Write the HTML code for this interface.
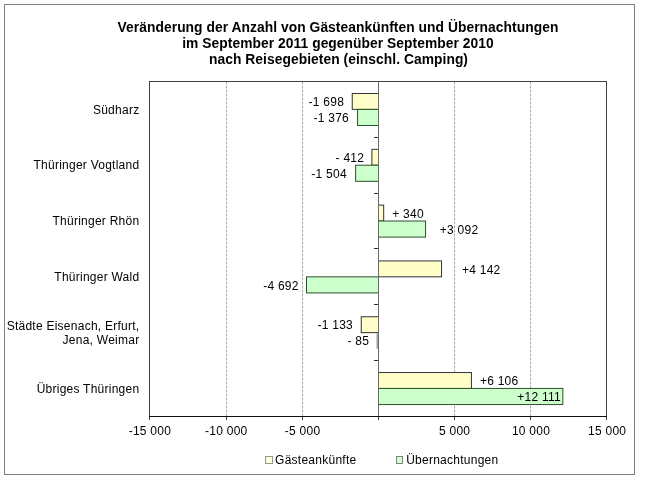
<!DOCTYPE html>
<html><head><meta charset="utf-8"><style>
html,body{margin:0;padding:0;background:#fff;}
svg{display:block;}
text{font-family:"Liberation Sans",Arial,Helvetica,sans-serif;fill:#000;}
.t{font-weight:bold;font-size:13.8px;letter-spacing:0.06px;}
.n{font-size:12px;letter-spacing:0.25px;}
</style></head><body>
<svg width="646" height="484" viewBox="0 0 646 484">
<rect x="0" y="0" width="646" height="484" fill="#fff"/>
<rect x="4.5" y="4.5" width="630" height="470" fill="none" stroke="#808080" stroke-width="1" shape-rendering="crispEdges"/>
<text class="t" x="338" y="31.6" text-anchor="middle">Veränderung der Anzahl von Gästeankünften und Übernachtungen</text>
<text class="t" x="338" y="48" text-anchor="middle">im September 2011 gegenüber September 2010</text>
<text class="t" x="338.5" y="63.7" text-anchor="middle">nach Reisegebieten (einschl. Camping)</text>
<line x1="226.5" y1="82" x2="226.5" y2="416" stroke="#e4e4e4" stroke-width="1" shape-rendering="crispEdges"/>
<line x1="226.5" y1="82" x2="226.5" y2="416" stroke="#a8a8a8" stroke-width="1" stroke-dasharray="2 2" shape-rendering="crispEdges"/>
<line x1="302.5" y1="82" x2="302.5" y2="416" stroke="#e4e4e4" stroke-width="1" shape-rendering="crispEdges"/>
<line x1="302.5" y1="82" x2="302.5" y2="416" stroke="#a8a8a8" stroke-width="1" stroke-dasharray="2 2" shape-rendering="crispEdges"/>
<line x1="454.5" y1="82" x2="454.5" y2="416" stroke="#e4e4e4" stroke-width="1" shape-rendering="crispEdges"/>
<line x1="454.5" y1="82" x2="454.5" y2="416" stroke="#a8a8a8" stroke-width="1" stroke-dasharray="2 2" shape-rendering="crispEdges"/>
<line x1="530.5" y1="82" x2="530.5" y2="416" stroke="#e4e4e4" stroke-width="1" shape-rendering="crispEdges"/>
<line x1="530.5" y1="82" x2="530.5" y2="416" stroke="#a8a8a8" stroke-width="1" stroke-dasharray="2 2" shape-rendering="crispEdges"/>
<rect x="149.5" y="81.5" width="457" height="335" fill="none" stroke="#404040" stroke-width="1" shape-rendering="crispEdges"/>
<line x1="149.5" y1="417" x2="149.5" y2="420" stroke="#404040" stroke-width="1" shape-rendering="crispEdges"/>
<line x1="226.5" y1="417" x2="226.5" y2="420" stroke="#404040" stroke-width="1" shape-rendering="crispEdges"/>
<line x1="302.5" y1="417" x2="302.5" y2="420" stroke="#404040" stroke-width="1" shape-rendering="crispEdges"/>
<line x1="378.5" y1="417" x2="378.5" y2="420" stroke="#404040" stroke-width="1" shape-rendering="crispEdges"/>
<line x1="454.5" y1="417" x2="454.5" y2="420" stroke="#404040" stroke-width="1" shape-rendering="crispEdges"/>
<line x1="530.5" y1="417" x2="530.5" y2="420" stroke="#404040" stroke-width="1" shape-rendering="crispEdges"/>
<line x1="606.5" y1="417" x2="606.5" y2="420" stroke="#404040" stroke-width="1" shape-rendering="crispEdges"/>
<rect x="352.25" y="93.50" width="26.25" height="15.90" fill="#FFFEC8" stroke="#333333" stroke-width="1"/>
<rect x="357.56" y="109.40" width="20.94" height="16.10" fill="#CCFFCC" stroke="#2F4F2F" stroke-width="1"/>
<rect x="371.90" y="149.31" width="6.60" height="15.90" fill="#FFFEC8" stroke="#333333" stroke-width="1"/>
<rect x="355.61" y="165.21" width="22.89" height="16.10" fill="#CCFFCC" stroke="#2F4F2F" stroke-width="1"/>
<rect x="378.50" y="205.12" width="5.17" height="15.90" fill="#FFFEC8" stroke="#333333" stroke-width="1"/>
<rect x="378.50" y="221.02" width="47.06" height="16.10" fill="#CCFFCC" stroke="#2F4F2F" stroke-width="1"/>
<rect x="378.50" y="260.93" width="63.04" height="15.90" fill="#FFFEC8" stroke="#333333" stroke-width="1"/>
<rect x="306.50" y="276.83" width="72.00" height="16.10" fill="#CCFFCC" stroke="#2F4F2F" stroke-width="1"/>
<rect x="361.26" y="316.74" width="17.24" height="15.90" fill="#FFFEC8" stroke="#333333" stroke-width="1"/>
<line x1="376.5" y1="333.14" x2="376.5" y2="348.74" stroke="#c8d4c8" stroke-width="1"/>
<line x1="377.5" y1="333.14" x2="377.5" y2="348.74" stroke="#9aaa9a" stroke-width="1"/>
<rect x="378.50" y="372.55" width="92.93" height="15.90" fill="#FFFEC8" stroke="#333333" stroke-width="1"/>
<rect x="378.50" y="388.45" width="184.33" height="16.10" fill="#CCFFCC" stroke="#2F4F2F" stroke-width="1"/>
<line x1="378.5" y1="81" x2="378.5" y2="417" stroke="#6a6a6a" stroke-width="1" shape-rendering="crispEdges"/>
<line x1="374" y1="137.5" x2="378" y2="137.5" stroke="#333" stroke-width="1" shape-rendering="crispEdges"/>
<line x1="374" y1="193.5" x2="378" y2="193.5" stroke="#333" stroke-width="1" shape-rendering="crispEdges"/>
<line x1="374" y1="248.5" x2="378" y2="248.5" stroke="#333" stroke-width="1" shape-rendering="crispEdges"/>
<line x1="374" y1="304.5" x2="378" y2="304.5" stroke="#333" stroke-width="1" shape-rendering="crispEdges"/>
<line x1="374" y1="360.5" x2="378" y2="360.5" stroke="#333" stroke-width="1" shape-rendering="crispEdges"/>
<line x1="149" y1="416.5" x2="607" y2="416.5" stroke="#101010" stroke-width="1" shape-rendering="crispEdges"/>
<text class="n" x="344.1" y="105.6" text-anchor="end">-1 698</text>
<text class="n" x="349.0" y="121.5" text-anchor="end">-1 376</text>
<text class="n" x="364.2" y="162.3" text-anchor="end">- 412</text>
<text class="n" x="346.9" y="178.4" text-anchor="end">-1 504</text>
<text class="n" x="392.2" y="217.6" text-anchor="start">+ 340</text>
<text class="n" x="439.8" y="233.6" text-anchor="start">+3 092</text>
<text class="n" x="462.0" y="274.4" text-anchor="start">+4 142</text>
<text class="n" x="298.7" y="289.7" text-anchor="end">-4 692</text>
<text class="n" x="353.0" y="328.7" text-anchor="end">-1 133</text>
<text class="n" x="369.1" y="344.7" text-anchor="end">- 85</text>
<text class="n" x="479.9" y="384.5" text-anchor="start">+6 106</text>
<text class="n" x="560.9" y="401.2" text-anchor="end">+12 111</text>
<text class="n" x="139.4" y="113.9" text-anchor="end">Südharz</text>
<text class="n" x="139.4" y="169" text-anchor="end">Thüringer Vogtland</text>
<text class="n" x="139.4" y="224.8" text-anchor="end">Thüringer Rhön</text>
<text class="n" x="139.4" y="280.8" text-anchor="end">Thüringer Wald</text>
<text class="n" x="139.4" y="329.7" text-anchor="end">Städte Eisenach, Erfurt,</text>
<text class="n" x="139.4" y="343.7" text-anchor="end">Jena, Weimar</text>
<text class="n" x="139.4" y="392.9" text-anchor="end">Übriges Thüringen</text>
<text class="n" x="149.9" y="435" text-anchor="middle">-15 000</text>
<text class="n" x="226.3" y="435" text-anchor="middle">-10 000</text>
<text class="n" x="302.6" y="435" text-anchor="middle">-5 000</text>
<text class="n" x="454.6" y="435" text-anchor="middle">5 000</text>
<text class="n" x="531" y="435" text-anchor="middle">10 000</text>
<text class="n" x="607.2" y="435" text-anchor="middle">15 000</text>
<rect x="265.5" y="456.5" width="7" height="7" fill="#FFFFE2" stroke="#98988a" stroke-width="1" shape-rendering="crispEdges"/>
<text class="n" x="275.1" y="463.6">Gästeankünfte</text>
<rect x="396.5" y="456.5" width="6" height="7" fill="#DAF8DA" stroke="#748a74" stroke-width="1" shape-rendering="crispEdges"/>
<text class="n" x="406.2" y="463.6">Übernachtungen</text>
</svg>
</body></html>
